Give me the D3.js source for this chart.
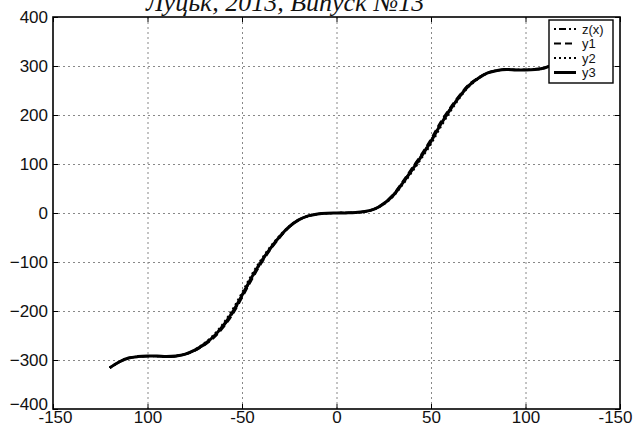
<!DOCTYPE html>
<html>
<head>
<meta charset="utf-8">
<script src="https://cdn.jsdelivr.net/npm/d3@7"></script>
<style>
  body { margin:0; background:#fff; }
  svg { display:block; }
  .tick text { font-family: "Liberation Sans", Arial, sans-serif; fill:#111; }
</style>
</head>
<body>
<div id="chart"></div>
<script>
// values
var xVals = [-120,-115,-110,-105,-100,-95,-90,-85,-80,-75,-70,-65,-60,-55,-50,-45,-40,-35,-30,-25,-20,-15,-10,-5,
             0,5,10,15,20,25,30,35,40,45,50,55,60,65,70,75,80,85,90,95,100,105,110,115,120];
var y3 = [-316,-304,-296,-293,-292,-292,-293,-292,-288,-280,-268,-252,-230,-202,-168,-132,-100,-72,-48,-28,-14,-6,-2,-0.3,
          0,0.2,0.8,3,8,19,36,61,88,116,146,180,210,237,260,275,286,291,293,292,292,293,296,304,316];
var y1 = [-316,-304,-296,-293,-292,-292,-293,-292,-288,-281,-270,-255,-234,-207,-173,-137,-104,-75,-50,-29,-14,-6,-2,-0.3,
          0,0.2,0.8,3,8,20,38,64,92,120,151,185,214,240,262,276,286,291,293,292,292,293,296,304,316];
var y2 = [-316,-304,-296,-293,-292,-292,-293,-292,-288,-279,-266,-249,-226,-197,-163,-127,-96,-69,-46,-27,-14,-6,-2,-0.3,
          0,0.2,0.8,3,8,18,34,58,84,112,141,175,206,234,258,274,286,291,293,292,292,293,296,304,316];
var zx = [-316,-304,-296,-293,-292,-292,-293,-292,-288,-280,-269,-253,-232,-205,-170,-134,-102,-73,-49,-28,-14,-6,-2,-0.3,
          0,0.2,0.8,3,8,19,37,62,90,118,148,182,212,238,261,275,286,291,293,292,292,293,296,304,316];

var xTicks = [-150,-100,-50,0,50,100,150];
var xTickLabels = ["-150","100","-50","0","50","100","-150"];
var yTicks = [-400,-300,-200,-100,0,100,200,300,400];

var seriesNames = ["z(x)","y1","y2","y3"];
var seriesData = [zx, y1, y2, y3];
var seriesDash = ["2,3,7,3", "7,4", "2,3", null];
var seriesWidth = [2.2, 2.2, 2.2, 3];

var W = 635, H = 428;
var margin = { left:53, right:15, top:17, bottom:19 };
var width = W - margin.left - margin.right;
var height = H - margin.top - margin.bottom;

var svg = d3.select("#chart").append("svg")
    .attr("width", W)
    .attr("height", H);
svg.append("rect").attr("width", W).attr("height", H).attr("fill", "#fff");

// journal header, cut off at the top edge
svg.append("text")
    .attr("x", 146).attr("y", 11)
    .attr("font-family", "'Liberation Serif', 'Times New Roman', serif")
    .attr("font-style", "italic")
    .attr("font-size", 26)
    .attr("fill", "#111")
    .text("Луцьк, 2013, Випуск №13");

var g = svg.append("g")
    .attr("transform", "translate(" + margin.left + "," + margin.top + ")");

var x = d3.scaleLinear().domain([-150, 150]).range([0, width]);
var y = d3.scaleLinear().domain([-400, 400]).range([height, 0]);

// grid
var gx = g.append("g")
    .attr("transform", "translate(0," + height + ")")
    .call(d3.axisBottom(x).tickValues(xTicks.slice(1, -1)).tickSize(-height).tickFormat(""));
var gy = g.append("g")
    .call(d3.axisLeft(y).tickValues(yTicks.slice(1, -1)).tickSize(-width).tickFormat(""));
[gx, gy].forEach(function(a) {
  a.select(".domain").remove();
  a.selectAll("line").attr("stroke", "#888").attr("stroke-width", 1).attr("stroke-dasharray", "2,3");
});

// curves
var line = d3.line()
    .x(function(d) { return x(d[0]); })
    .y(function(d) { return y(d[1]); })
    .curve(d3.curveCatmullRom);

seriesData.forEach(function(s, i) {
  var pts = xVals.map(function(v, j) { return [v, s[j]]; });
  g.append("path")
      .datum(pts)
      .attr("fill", "none")
      .attr("stroke", "#000")
      .attr("stroke-width", seriesWidth[i])
      .attr("stroke-linejoin", "round")
      .attr("stroke-dasharray", seriesDash[i])
      .attr("d", line);
});

// inner ticks on all four sides
g.append("g").attr("transform", "translate(0," + height + ")")
    .call(d3.axisBottom(x).tickValues(xTicks).tickSize(-5).tickFormat(""));
g.append("g")
    .call(d3.axisTop(x).tickValues(xTicks).tickSize(-5).tickFormat(""));
g.append("g")
    .call(d3.axisLeft(y).tickValues(yTicks).tickSize(-5).tickFormat(""));
g.append("g").attr("transform", "translate(" + width + ",0)")
    .call(d3.axisRight(y).tickValues(yTicks).tickSize(-5).tickFormat(""));
g.selectAll(".domain").remove();

// tick labels
var xAxis = g.append("g")
    .attr("transform", "translate(0," + height + ")")
    .call(d3.axisBottom(x).tickValues(xTicks).tickSize(0).tickPadding(2)
          .tickFormat(function(d, i) { return xTickLabels[i]; }));
var yAxis = g.append("g")
    .call(d3.axisLeft(y).tickValues(yTicks).tickSize(0).tickPadding(5));
[xAxis, yAxis].forEach(function(a) {
  a.select(".domain").remove();
  a.selectAll("text").attr("font-size", 17);
});
// end labels nudged like in the source
xAxis.selectAll(".tick text").filter(function(d) { return d === 150; }).attr("dx", -5);
xAxis.selectAll(".tick text").filter(function(d) { return d === -150; }).attr("dx", 2);
yAxis.selectAll(".tick text").filter(function(d) { return d === -400; }).attr("dy", "0.05em");

// frame
g.append("rect")
    .attr("width", width).attr("height", height)
    .attr("fill", "none").attr("stroke", "#000").attr("stroke-width", 1.6);

// legend
var lg = svg.append("g").attr("transform", "translate(549,20)");
lg.append("rect")
    .attr("width", 64).attr("height", 63)
    .attr("fill", "#fff").attr("stroke", "#000").attr("stroke-width", 1.4);
seriesNames.forEach(function(name, i) {
  var yy = 9 + i * 14.5;
  lg.append("line")
      .attr("x1", 5).attr("x2", 27).attr("y1", yy).attr("y2", yy)
      .attr("stroke", "#000")
      .attr("stroke-width", seriesWidth[i])
      .attr("stroke-dasharray", seriesDash[i]);
  lg.append("text")
      .attr("x", 33).attr("y", yy + 4.5)
      .attr("font-family", "'Liberation Sans', Arial, sans-serif")
      .attr("font-size", 13)
      .attr("fill", "#111")
      .text(name);
});
</script>
</body>
</html>
